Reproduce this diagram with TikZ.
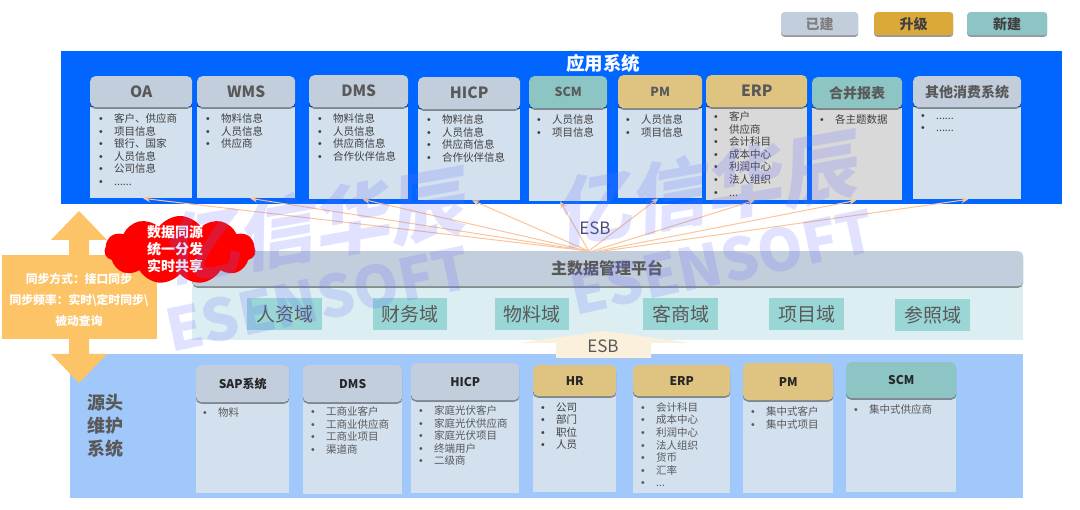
\documentclass[tikz,border=0pt]{standalone}
\usepackage{fontspec}
\setmainfont{Noto Sans CJK SC}
\newfontfamily\bulfont{Liberation Sans}
\usetikzlibrary{shadows,shapes.symbols,arrows.meta}
\definecolor{hgray}{HTML}{C3CEDC}
\definecolor{hgold}{HTML}{DFC481}
\definecolor{hteal}{HTML}{8CC5C4}
\definecolor{bblue}{HTML}{D3E0EE}
\definecolor{bgray}{HTML}{D9D9D9}
\definecolor{topband}{HTML}{0066FF}
\definecolor{lowband}{HTML}{A1C8FB}
\definecolor{midband}{HTML}{DCEEF1}
\definecolor{dombox}{HTML}{9AD6D6}
\definecolor{syncor}{HTML}{FCC466}
\definecolor{arrowor}{HTML}{FCC49A}
\definecolor{esbfill}{HTML}{FBF0DC}
\definecolor{wmark}{RGB}{100,110,255}
\definecolor{txtd}{HTML}{404040}
\definecolor{txtm}{HTML}{595959}
\definecolor{lgold}{HTML}{DBA83A}
\definecolor{lgray}{HTML}{7F7F7F}
\tikzset{
  shad/.style={drop shadow={shadow xshift=0pt,shadow yshift=-1.6pt,opacity=.4,fill=black}},
  headbox/.style={rounded corners=5pt,shad,inner sep=0pt,anchor=north west,align=center},
  heada/.style={headbox,fill=hgray},
  headb/.style={headbox,fill=hgold},
  headc/.style={headbox,fill=hteal},
  tbig/.style={text=txtm,font=\fontsize{14}{16}\selectfont\bfseries},
  tlat/.style={text=txtm,font=\fontsize{15.5}{17}\selectfont\bfseries},
  tmid/.style={text=txtm,font=\fontsize{12.5}{15}\selectfont\bfseries},
  tlow/.style={text=black!85,font=\fontsize{12}{14}\selectfont\bfseries},
  bodya/.style={fill=bblue,inner sep=0pt,anchor=north west},
  bodyb/.style={fill=bgray,inner sep=0pt,anchor=north west},
  lista/.style={anchor=north west,yshift=-1.3pt,inner sep=0pt,align=left,text=txtd,font=\fontsize{10.5}{12.6}\selectfont},
  listb/.style={lista,text=txtm},
  lgbox/.style={rounded corners=3pt,shad,inner sep=0pt,anchor=north west,font=\fontsize{14}{16}\selectfont\bfseries},
  dombx/.style={fill=dombox,inner sep=0pt,anchor=north west,text=txtm,font=\fontsize{19}{21}\selectfont},
  feed/.style={arrowor,line width=1pt,-{Stealth[length=7pt,width=6pt]}},
  wm/.style={text=wmark,text opacity=.2,inner sep=0pt,font=\bfseries},
}
\newcommand{\card}[9]{%
  \pgfmathsetmacro\cw{#3-#2}\pgfmathsetmacro\hh{#5-#4}\pgfmathsetmacro\bh{#6-#5}%
  \node[#8,minimum width=\cw pt,minimum height=\bh pt] (#1b) at (#2,#5) {};
  \node[#7,minimum width=\cw pt,minimum height=\hh pt] (#1h) at (#2,#4) {#9};
}
\newcommand{\lst}[5]{\node[#4] (#1l) at (#2,#3) {#5};}
\newcommand{\bl}[1]{\makebox[15pt][l]{{\bulfont •}}#1}
\newcommand{\feedto}[3]{\draw[feed] ([xshift=#3pt]plat.north) -- ([xshift=#2pt]#1b.south);}
\begin{document}
\begin{tikzpicture}[x=1pt,y=-1pt]
\useasboundingbox[fill=white] (0,0) rectangle (1080,510);

% legend
\node[lgbox,fill=hgray,text=lgray,minimum width=77pt,minimum height=23pt] (lg1) at (781,12) {已建};
\node[lgbox,fill=lgold,text=txtd,minimum width=79pt,minimum height=23pt] (lg2) at (874,12) {升级};
\node[lgbox,fill=hteal,text=txtd,minimum width=80pt,minimum height=23pt] (lg3) at (967,12) {新建};

% bands
\node[fill=topband,inner sep=0pt,anchor=north west,minimum width=1001pt,minimum height=153pt] (topb) at (61,51) {};
\node[text=white,font=\fontsize{18.5}{20}\selectfont\bfseries,inner sep=0pt] (toptitle) at (603,63) {应用系统};
\node[fill=midband,inner sep=0pt,anchor=north west,minimum width=831pt,minimum height=54pt] (midb) at (192,286) {};
\node[fill=lowband,inner sep=0pt,anchor=north west,minimum width=953pt,minimum height=144pt] (lowb) at (70,354) {};

% top cards
\card{oa}{90}{192}{76}{107}{198}{heada,tlat}{bodya}{OA}
\card{wms}{197}{295}{76}{107}{198}{heada,tlat}{bodya}{WMS}
\card{dms}{309}{408}{75}{107}{199}{heada,tlat}{bodya}{DMS}
\card{hicp}{418}{520}{77}{109}{200}{heada,tlat}{bodya}{HICP}
\card{scm}{529}{607}{76}{108}{201}{headc,tmid}{bodya}{SCM}
\card{pm}{618}{702}{75}{108}{198}{headb,tmid}{bodya}{PM}
\card{erp}{706}{807}{75}{107}{200}{headb,tlat}{bodyb}{ERP}
\card{hb}{812}{902}{77}{108}{200}{headc,tbig}{bodyb}{合并报表}
\card{oth}{913}{1021}{76}{107}{199}{heada,tbig}{bodya}{其他消费系统}

\lst{oa}{99}{112}{lista}{\bl{客户、供应商}\\\bl{项目信息}\\\bl{银行、国家}\\\bl{人员信息}\\\bl{公司信息}\\\bl{......}}
\lst{wms}{206}{112}{lista}{\bl{物料信息}\\\bl{人员信息}\\\bl{供应商}}
\lst{dms}{318}{112}{lista}{\bl{物料信息}\\\bl{人员信息}\\\bl{供应商信息}\\\bl{合作伙伴信息}}
\lst{hicp}{427}{113}{lista}{\bl{物料信息}\\\bl{人员信息}\\\bl{供应商信息}\\\bl{合作伙伴信息}}
\lst{scm}{537}{113}{lista}{\bl{人员信息}\\\bl{项目信息}}
\lst{pm}{626}{113}{lista}{\bl{人员信息}\\\bl{项目信息}}
\lst{erp}{714}{110}{lista}{\bl{客户}\\\bl{供应商}\\\bl{会计科目}\\\bl{成本中心}\\\bl{利润中心}\\\bl{法人组织}\\\bl{...}}
\lst{hb}{820}{113}{lista}{\bl{各主题数据}}
\lst{oth}{921}{113}{lista}{\bl{......}\\\bl{......}}

% left sync arrow
\path[fill=syncor] (79,211) -- (107,240) -- (89,240) -- (89,354) -- (107,354) -- (79,383) -- (51,354) -- (69,354) -- (69,240) -- (51,240) -- cycle;
\node[fill=syncor,inner sep=0pt,anchor=north west,minimum width=155pt,minimum height=84pt] (syncb) at (2,255) {};

% platform
\node[fill=hgray,rounded corners=5pt,shad,inner sep=0pt,anchor=north west,minimum width=831pt,minimum height=35pt] (plat) at (192,251) {};
\node[text=txtm,font=\fontsize{16}{18}\selectfont\bfseries,inner sep=0pt] (plattxt) at (607,268) {主数据管理平台};

% cloud
\node[cloud,cloud puffs=11,cloud puff arc=110,aspect=2.2,fill=red,inner sep=0pt,minimum width=151pt,minimum height=68pt] (cl) at (180,250) {};
\node[text=white,align=center,inner sep=0pt,font=\fontsize{14}{17}\selectfont\bfseries] (cltxt) at (175,249) {数据同源\\统一分发\\实时共享};
\node[text=white,align=center,inner sep=0pt,font=\fontsize{11.8}{21}\selectfont\bfseries] (synctxt) at (79,300) {同步方式：接口同步\\同步频率：实时\textbackslash{}定时同步\textbackslash{}\\被动查询};

% domains
\node[dombx,minimum width=75pt,minimum height=32pt] (d1) at (247,298) {人资域};
\node[dombx,minimum width=74pt,minimum height=32pt] (d2) at (373,298) {财务域};
\node[dombx,minimum width=74pt,minimum height=32pt] (d3) at (495,298) {物料域};
\node[dombx,minimum width=75pt,minimum height=32pt] (d4) at (643,298) {客商域};
\node[dombx,minimum width=75pt,minimum height=32pt] (d5) at (769,298) {项目域};
\node[dombx,minimum width=75pt,minimum height=32pt] (d6) at (895,299) {参照域};

% feeds
\feedto{oa}{2}{-19}
\feedto{wms}{4}{-19}
\feedto{dms}{4}{-19}
\feedto{hicp}{3}{-19}
\feedto{scm}{-8}{-19}
\feedto{pm}{-2}{-19}
\feedto{erp}{-2}{-15}
\feedto{hb}{-1}{-10}
\feedto{oth}{1}{-4}
\node[text=txtm!85!blue,font=\fontsize{17}{19}\selectfont,inner sep=0pt] (esb1) at (595,228) {ESB};

% low ESB arrow
\path[fill=esbfill] (604,331) -- (691,343) -- (651,343) -- (651,358) -- (556,358) -- (556,343) -- (518,343) -- cycle;
\node[text=txtm,font=\fontsize{17}{19}\selectfont,inner sep=0pt] (esb2) at (603,346) {ESB};

% lower cards
\node[text=txtm,align=left,inner sep=0pt,font=\fontsize{18}{23}\selectfont\bfseries] (src) at (105,426) {源头\\维护\\系统};
\card{lsap}{196}{289}{365}{402}{493}{heada,tlow}{bodya}{SAP系统}
\card{ldms}{303}{402}{365}{402}{494}{heada,tlow}{bodya}{DMS}
\card{lhicp}{411}{519}{363}{400}{493}{heada,tlow}{bodya}{HICP}
\card{lhr}{533}{616}{365}{396}{492}{headb,tlow}{bodya}{HR}
\card{lerp}{633}{730}{365}{396}{493}{headb,tlow}{bodya}{ERP}
\card{lpm}{743}{833}{363}{400}{493}{headb,tlow}{bodya}{PM}
\card{lscm}{846}{956}{362}{398}{492}{headc,tlow}{bodya}{SCM}

\lst{lsap}{203}{406}{listb}{\bl{物料}}
\lst{ldms}{311}{405}{listb}{\bl{工商业客户}\\\bl{工商业供应商}\\\bl{工商业项目}\\\bl{渠道商}}
\lst{lhicp}{419}{404}{listb}{\bl{家庭光伏客户}\\\bl{家庭光伏供应商}\\\bl{家庭光伏项目}\\\bl{终端用户}\\\bl{二级商}}
\lst{lhr}{541}{401}{lista}{\bl{公司}\\\bl{部门}\\\bl{职位}\\\bl{人员}}
\lst{lerp}{641}{401}{listb}{\bl{会计科目}\\\bl{成本中心}\\\bl{利润中心}\\\bl{法人组织}\\\bl{货币}\\\bl{汇率}\\\bl{...}}
\lst{lpm}{751}{405}{listb}{\bl{集中式客户}\\\bl{集中式项目}}
\lst{lscm}{854}{403}{listb}{\bl{集中式供应商}}

% watermarks
\node[wm,rotate=10,xslant=.2,transform shape,font=\fontsize{76}{80}\selectfont\bfseries] (wm1) at (318,225) {亿信华辰};
\node[wm,rotate=12,transform shape,font=\fontsize{58}{60}\selectfont\bfseries] (wm2) at (318,299) {ESENSOFT};
\node[wm,rotate=10,xslant=.2,transform shape,font=\fontsize{76}{80}\selectfont\bfseries] (wm3) at (710,188) {亿信华辰};
\node[wm,rotate=12,transform shape,font=\fontsize{58}{60}\selectfont\bfseries] (wm4) at (722,262) {ESENSOFT};
\end{tikzpicture}
\end{document}
